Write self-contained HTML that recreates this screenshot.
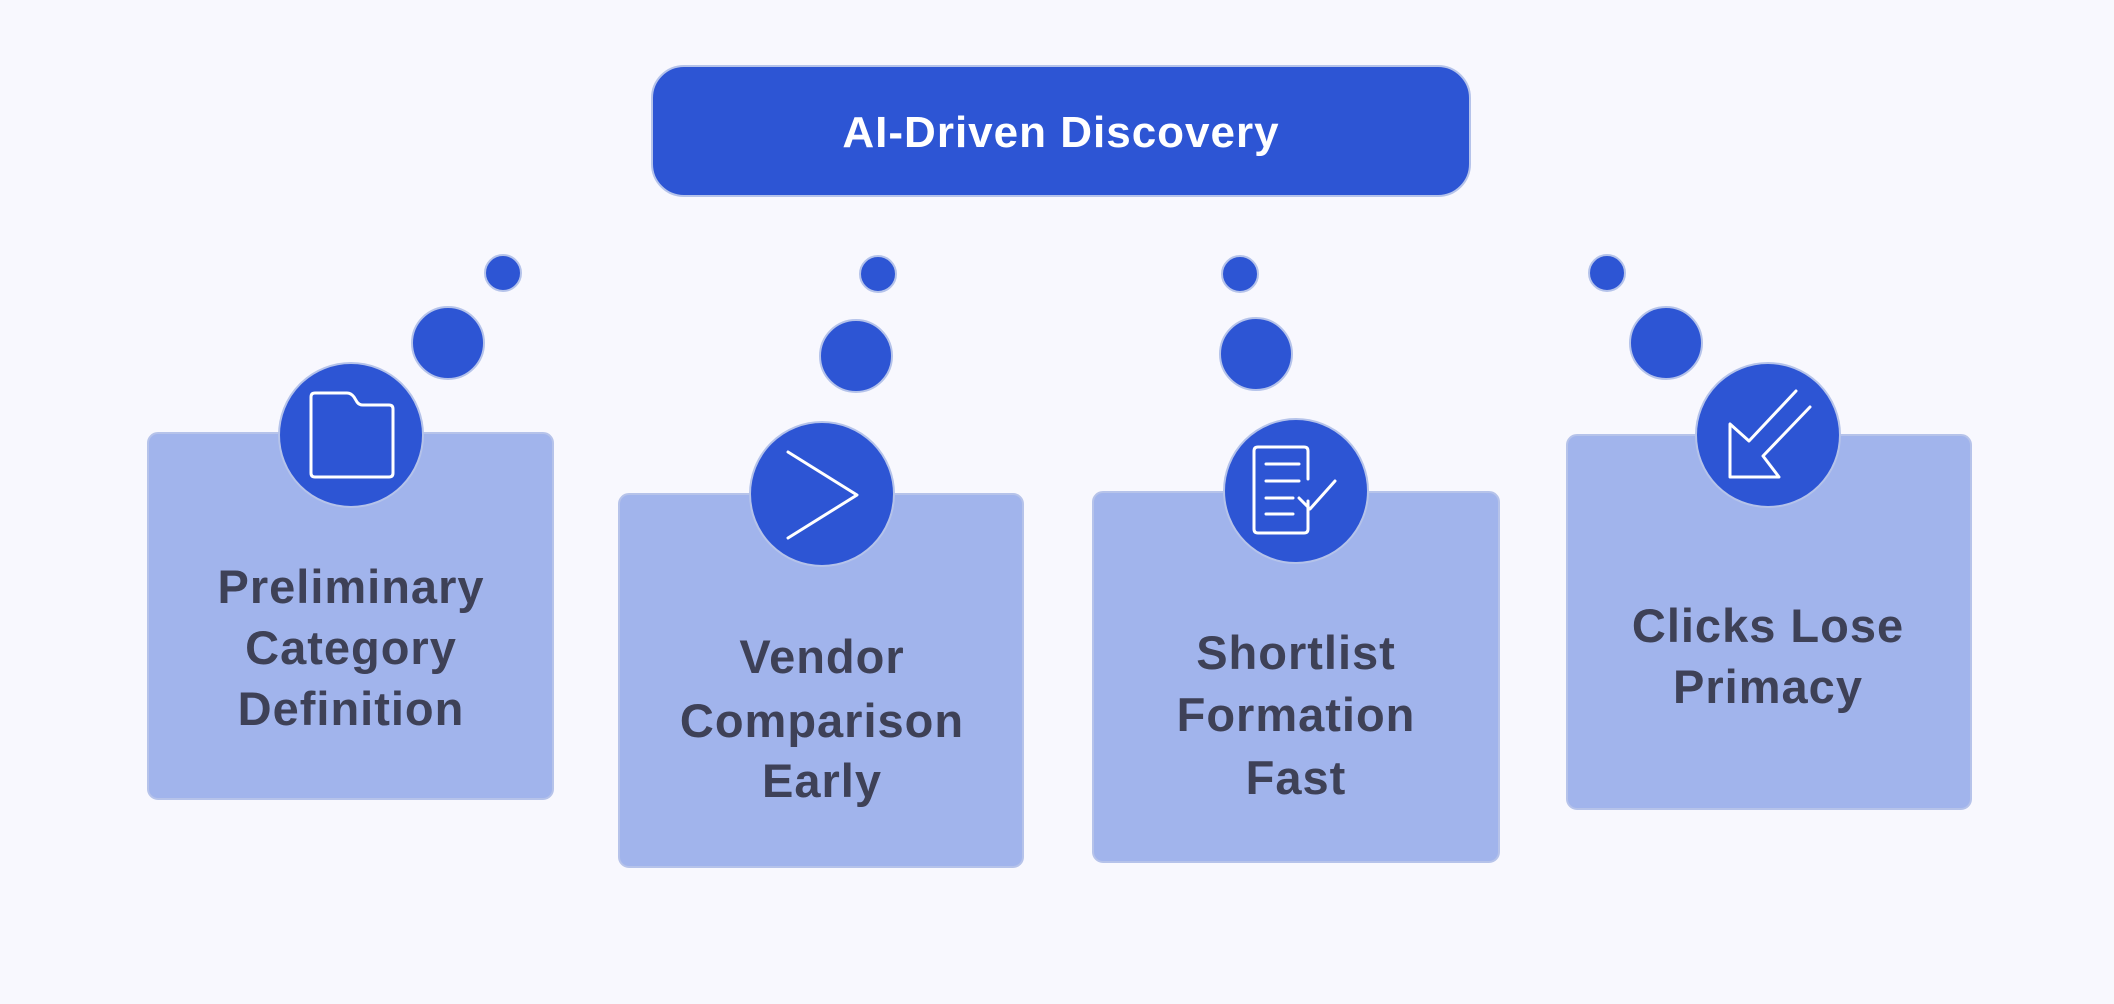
<!DOCTYPE html>
<html><head><meta charset="utf-8"><style>
html,body{margin:0;padding:0;background:#f8f8fe;}
svg{display:block}
text{font-family:"Liberation Sans",sans-serif;}
</style></head><body>
<svg width="2114" height="1004" viewBox="0 0 2114 1004" xmlns="http://www.w3.org/2000/svg">
<rect width="2114" height="1004" fill="#f8f8fe"/>
<rect x="652" y="66" width="818" height="130" rx="32" fill="#2d55d4" stroke="#b5c3ea" stroke-width="2"/>
<text x="1061" y="147" text-anchor="middle" font-size="44" font-weight="600" fill="#fff" letter-spacing="1">AI-Driven Discovery</text>

<g stroke="#b6c3ea" stroke-width="2">
<rect x="148" y="433" width="405" height="366" rx="10" fill="#a1b4ec"/>
<rect x="619" y="494" width="404" height="373" rx="10" fill="#a1b4ec"/>
<rect x="1093" y="492" width="406" height="370" rx="10" fill="#a1b4ec"/>
<rect x="1567" y="435" width="404" height="374" rx="10" fill="#a1b4ec"/>
</g>
<g fill="#2d55d4" stroke="#b5c3ea" stroke-width="2">
<circle cx="503" cy="273" r="18"/><circle cx="448" cy="343" r="36"/><circle cx="351" cy="435" r="72"/>
<circle cx="878" cy="274" r="18"/><circle cx="856" cy="356" r="36"/><circle cx="822" cy="494" r="72"/>
<circle cx="1240" cy="274" r="18"/><circle cx="1256" cy="354" r="36"/><circle cx="1296" cy="491" r="72"/>
<circle cx="1607" cy="273" r="18"/><circle cx="1666" cy="343" r="36"/><circle cx="1768" cy="435" r="72"/>
</g>
<g fill="none" stroke="#fff" stroke-width="3" stroke-linejoin="round" stroke-linecap="round">
<path transform="translate(351,435)" d="M-36,-42 H-4 Q0,-42 3,-38 L6,-33 Q8,-30 12,-30 H38 Q42,-30 42,-26 V38 Q42,42 38,42 H-36 Q-40,42 -40,38 V-38 Q-40,-42 -36,-42 Z"/>
<path transform="translate(822,494)" d="M-34,-42 L35,1 L-34,44"/>
<g transform="translate(1296,491)">
<path d="M12,10 V38 Q12,42 8,42 H-38 Q-42,42 -42,38 V-40 Q-42,-44 -38,-44 H8 Q12,-44 12,-40 V-12"/>
<path d="M-30,-27 H3 M-30,-10 H3 M-30,7 H-3 M-30,23 H-3"/>
<path d="M3,7 L14,18 L39,-10"/>
</g>
<path transform="translate(1768,435)" d="M28,-44 L-19,6 L-38,-11 L-38,42 L11,42 L-5,21 L42,-28"/>
</g>
<g font-size="47" font-weight="600" fill="#3e4157" text-anchor="middle" letter-spacing="1">
<text x="351" y="603">Preliminary</text><text x="351" y="664">Category</text><text x="351" y="725">Definition</text>
<text x="822" y="673">Vendor</text><text x="822" y="737">Comparison</text><text x="822" y="797">Early</text>
<text x="1296" y="669">Shortlist</text><text x="1296" y="731">Formation</text><text x="1296" y="794">Fast</text>
<text x="1768" y="642">Clicks Lose</text><text x="1768" y="703">Primacy</text>
</g>
</svg>
</body></html>
